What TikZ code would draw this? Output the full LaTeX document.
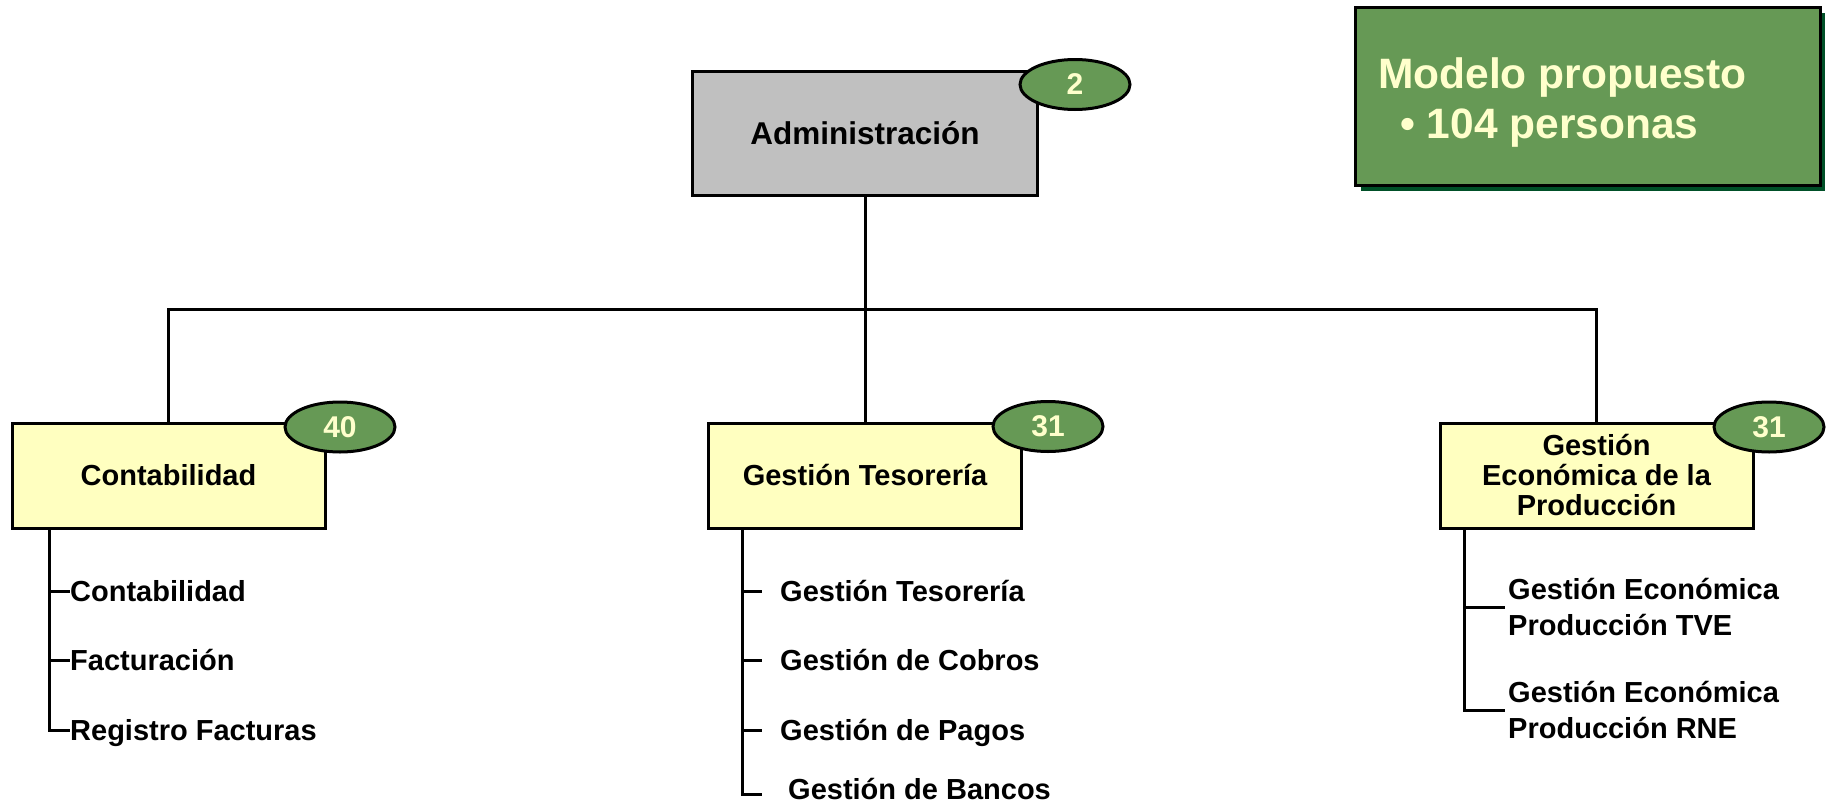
\documentclass[tikz,border=0pt]{standalone}
\usepackage{fontspec}
\setmainfont{Liberation Sans}
\usetikzlibrary{shapes.geometric}
\definecolor{boxgray}{RGB}{192,192,192}
\definecolor{boxyellow}{RGB}{255,255,192}
\definecolor{ovalgreen}{RGB}{102,153,85}
\definecolor{ovaltext}{RGB}{255,255,204}
\definecolor{shadowgreen}{RGB}{0,80,40}
\begin{document}
\begin{tikzpicture}[x=1pt,y=-1pt,
  unit/.style={draw=black, line width=3pt, rectangle, inner sep=0pt, align=center,
    font=\fontsize{29}{30}\selectfont\bfseries, minimum width=313pt, minimum height=105pt, fill=boxyellow},
  count/.style={draw=black, line width=3pt, ellipse, fill=ovalgreen, minimum width=110pt,
    minimum height=50pt, inner sep=0pt, text=ovaltext, font=\fontsize{30}{30}\selectfont\bfseries},
  item/.style={anchor=west, inner sep=0pt, text height=21pt, text depth=0pt,
    font=\fontsize{29}{30}\selectfont\bfseries},
  itemtwo/.style={anchor=west, inner sep=0pt, align=left, font=\fontsize{29}{36}\selectfont\bfseries},
  link/.style={draw=black, line width=3pt}]
\useasboundingbox (0,0) rectangle (1831,803);

% title box
\fill[shadowgreen] (1361,13) rectangle (1825,191);
\node[draw=black, line width=3pt, fill=ovalgreen, minimum width=465pt, minimum height=178pt, inner sep=0pt] (model) at (1587.5,96) {};
\node[anchor=base west, align=left, inner sep=0pt, text=ovaltext, font=\fontsize{42.5}{50}\selectfont\bfseries] (mtext) at (1378,138) {Modelo propuesto\\\hspace*{22pt}• 104 personas};

% main boxes
\node[unit, fill=boxgray, minimum width=345pt, minimum height=124pt, font=\fontsize{31.5}{32}\selectfont\bfseries] (adm) at (865,133) {Administración};
\node[unit] (cont) at (168.5,475.5) {Contabilidad};
\node[unit] (tes) at (865,475.5) {Gestión Tesorería};
\node[unit] (gep) at (1596.5,475.5) {Gestión\\Económica de la\\Producción};

% counts
\node[count] (nadm) at (1075,84.5) {2};
\node[count] (ncont) at (340,427) {40};
\node[count] (ntes) at (1048,426.5) {31};
\node[count] (ngep) at (1769,427) {31};

% tree
\coordinate (bus) at (865,309);
\draw[link] (adm.south) -- (tes.north);
\draw[link] (cont.north) |- (bus) -| (gep.north);

% Contabilidad items
\node[item] (c1) at (70,591) {Contabilidad};
\node[item] (c2) at (70,660) {Facturación};
\node[item] (c3) at (70,730) {Registro Facturas};
\coordinate (ct) at ([xshift=-119.5pt]cont.south);
\draw[link] (ct) |- (c3.west);
\draw[link] (c1.west -| ct) -- (c1.west);
\draw[link] (c2.west -| ct) -- (c2.west);

% Tesoreria items
\node[item] (t1) at (780,591) {Gestión Tesorería};
\node[item] (t2) at (780,660) {Gestión de Cobros};
\node[item] (t3) at (780,730) {Gestión de Pagos};
\node[item] (t4) at (788,789) {Gestión de Bancos};
\coordinate (tt) at ([xshift=-123pt]tes.south);
\draw[link] (tt) |- ([xshift=-26pt,yshift=-5pt]t4.west);
\draw[link] (t1.west -| tt) -- ([xshift=-18pt]t1.west);
\draw[link] (t2.west -| tt) -- ([xshift=-18pt]t2.west);
\draw[link] (t3.west -| tt) -- ([xshift=-18pt]t3.west);

% Gestion Economica items
\node[itemtwo] (g1) at (1508,607) {Gestión Económica\\Producción TVE};
\node[itemtwo] (g2) at (1508,710) {Gestión Económica\\Producción RNE};
\coordinate (gt) at ([xshift=-132.5pt]gep.south);
\draw[link] (gt) |- ([xshift=-3pt]g2.west);
\draw[link] (g1.west -| gt) -- ([xshift=-3pt]g1.west);
\end{tikzpicture}
\end{document}
